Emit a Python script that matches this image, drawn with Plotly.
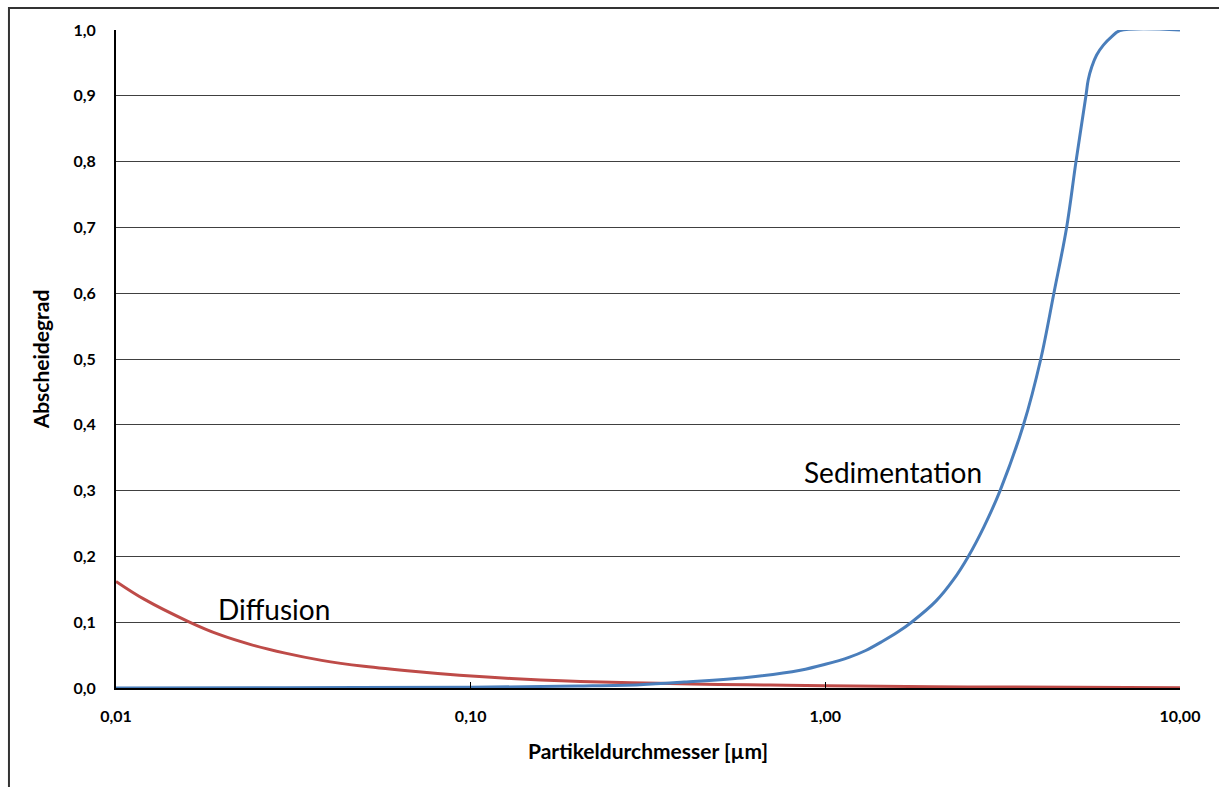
import plotly.graph_objects as go

# Particle diameter [µm] and collection efficiency readings
sed_d = [0.01, 0.03, 0.1, 0.2, 0.3, 0.4, 0.6, 0.85, 1.0, 1.17, 1.3, 1.45, 1.6, 1.75, 2.05, 2.3, 2.53, 2.8,
         3.11, 3.62, 4.05, 4.41, 4.79, 5.09, 5.43, 5.51, 5.64, 5.82, 6.08, 6.42, 6.77, 10.0]
sed_v = [0.0, 0.0005, 0.001, 0.003, 0.005, 0.009, 0.016, 0.027, 0.036, 0.047, 0.057, 0.071, 0.085, 0.1, 0.132,
         0.165, 0.2, 0.245, 0.3, 0.4, 0.5, 0.6, 0.7, 0.8, 0.9, 0.924, 0.944, 0.962, 0.977, 0.990, 0.999, 1.0]

dif_d = [0.01, 0.012, 0.016, 0.0196, 0.024, 0.03, 0.038, 0.05, 0.07, 0.093, 0.13, 0.18,
         0.25, 0.34, 0.5, 0.7, 1.0, 2.0, 3.0, 5.0, 10.0]
dif_v = [0.162, 0.135, 0.101, 0.081, 0.066, 0.053, 0.042, 0.033, 0.025, 0.0195, 0.0145, 0.011,
         0.0088, 0.0071, 0.0055, 0.0045, 0.0035, 0.002, 0.0015, 0.001, 0.0005]

x_tickvals = [0.01, 0.1, 1, 10]
x_ticktext = ["0,01", "0,10", "1,00", "10,00"]
y_tickvals = [0.0, 0.1, 0.2, 0.3, 0.4, 0.5, 0.6, 0.7, 0.8, 0.9, 1.0]
y_ticktext = ["0,0", "0,1", "0,2", "0,3", "0,4", "0,5", "0,6", "0,7", "0,8", "0,9", "1,0"]

FONT = "Lato, 'Open Sans', sans-serif"

fig = go.Figure()
fig.add_trace(go.Scatter(x=dif_d, y=dif_v, mode="lines", name="Diffusion",
                         line=dict(color="#BE4B48", width=3, shape="spline", smoothing=1.0)))
fig.add_trace(go.Scatter(x=sed_d, y=sed_v, mode="lines", name="Sedimentation",
                         line=dict(color="#4A7EBB", width=3, shape="spline", smoothing=1.0)))

fig.add_annotation(x=0.19, y=0.328, xref="x", yref="y", text="Sedimentation", showarrow=False,
                   font=dict(family=FONT, size=28, color="black"))
fig.add_annotation(x=-1.5545, y=0.12, xref="x", yref="y", text="Diffusion", showarrow=False,
                   font=dict(family=FONT, size=28, color="black"))

# outer chart border
fig.add_shape(type="rect", xref="paper", yref="paper", x0=-0.1006, x1=1.2, y0=-0.3, y1=1.0334,
              line=dict(color="#333333", width=2), fillcolor="rgba(0,0,0,0)", layer="below")

fig.update_layout(
    width=1219, height=787,
    margin=dict(l=116, r=39, t=30, b=99),
    paper_bgcolor="white", plot_bgcolor="white",
    showlegend=False,
    font=dict(family=FONT, color="black"),
    xaxis=dict(type="log", range=[-2, 1], tickvals=x_tickvals, ticktext=x_ticktext,
               showgrid=False, showline=True, linecolor="black", linewidth=1.5,
               ticks="inside", ticklen=6, tickcolor="black",
               tickfont=dict(family=FONT, size=16, color="black", weight="bold"),
               ticklabelstandoff=13,
               title=dict(text="Partikeldurchmesser [µm]", standoff=20,
                          font=dict(family=FONT, size=21, color="black", weight="bold")),
               zeroline=False),
    yaxis=dict(range=[0, 1], tickvals=y_tickvals, ticktext=y_ticktext,
               showgrid=True, gridcolor="#404040", gridwidth=1,
               showline=True, linecolor="black", linewidth=2,
               ticks="", ticklabelstandoff=15,
               tickfont=dict(family=FONT, size=16, color="black", weight="bold"),
               title=dict(text="Abscheidegrad", standoff=18,
                          font=dict(family=FONT, size=21, color="black", weight="bold")),
               zeroline=False),
)

fig.write_html("out.html")
